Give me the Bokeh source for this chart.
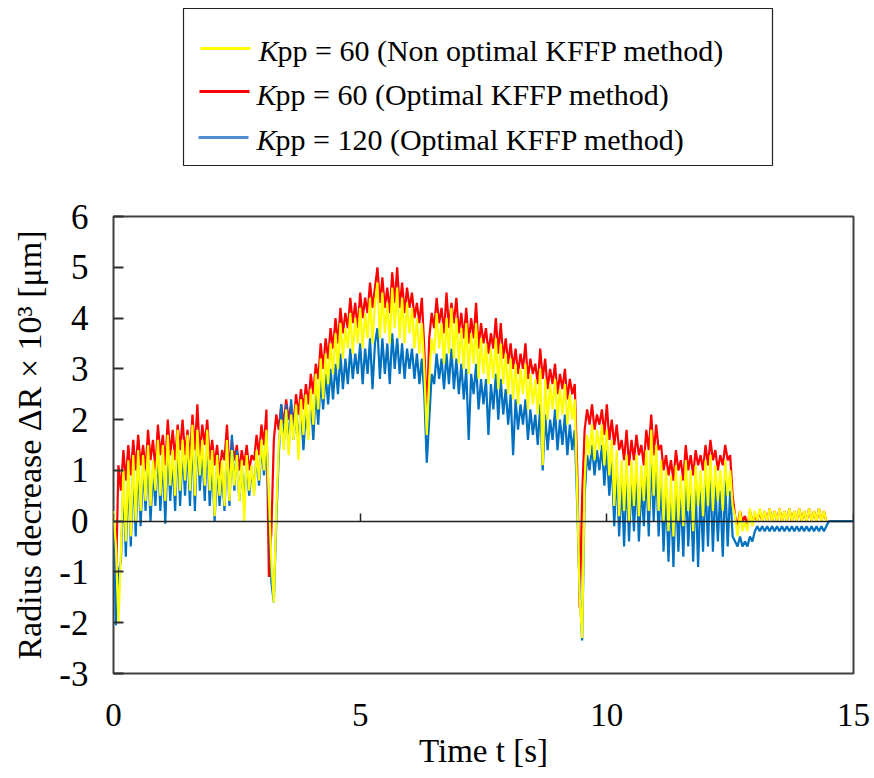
import numpy as np
from bokeh.plotting import figure
from bokeh.models import LinearAxis, Label, FixedTicker, Range1d
from bokeh.layouts import column
from bokeh.embed import file_html
from bokeh.resources import INLINE

FONT = "Liberation Serif"

# ---------------- data ----------------
dt = 0.05  # sampling step [s]

red_vals = [
    0.1, -1.2, 1.1, 0.6, 1.4, 0.8, 1.5, 0.9, 1.6, 1.0,
    1.7, 1.1, 1.5, 1.0, 1.8, 1.2, 1.6, 1.0, 1.9, 1.3,
    1.7, 1.1, 2.0, 1.3, 1.8, 1.2, 1.9, 1.4, 2.0, 1.3,
    1.8, 1.2, 2.1, 1.4, 2.3, 1.3, 1.9, 1.5, 2.0, 1.2,
    1.6, 1.1, 1.5, 0.9, 1.4, 1.2, 1.9, 1.0, 1.6, 1.2,
    1.5, 1.0, 1.4, 1.1, 1.5, 1.0, 1.3, 1.2, 1.7, 1.3,
    1.9, 1.5, 2.2, -1.1, -0.2, 1.6, 2.1, 1.8, 2.3, 1.9,
    2.4, 2.0, 2.3, 1.9, 2.5, 2.1, 2.6, 2.2, 2.7, 2.3,
    2.9, 2.5, 3.1, 2.8, 3.5, 3.0, 3.6, 3.2, 3.8, 3.4,
    4.0, 3.5, 4.2, 3.7, 4.1, 3.8, 4.4, 3.9, 4.3, 3.8,
    4.5, 4.0, 4.4, 4.1, 4.7, 4.2, 4.6, 5.0, 4.3, 4.8,
    4.2, 4.6, 4.1, 4.9, 4.3, 5.0, 4.2, 4.7, 4.1, 4.6,
    4.2, 4.5, 4.0, 4.3, 3.9, 4.4, 3.4, 2.1, 3.6, 4.1,
    3.8, 4.4, 3.9, 4.2, 3.7, 4.5, 3.8, 4.3, 3.9, 4.4,
    3.7, 4.1, 3.6, 4.2, 3.5, 4.0, 3.6, 4.3, 3.4, 3.9,
    3.5, 3.8, 3.3, 3.7, 3.4, 4.0, 3.3, 3.9, 3.2, 3.6,
    3.1, 3.5, 3.0, 3.4, 2.9, 3.3, 3.0, 3.5, 2.8, 3.2,
    2.9, 3.1, 2.7, 3.4, 2.8, 3.2, 2.6, 3.0, 2.7, 3.1,
    2.5, 2.9, 2.6, 3.0, 2.4, 2.8, 2.5, 2.7, 1.0, -1.7,
    0.5, 1.8, 2.2, 1.9, 2.3, 1.8, 2.1, 1.9, 2.2, 1.7,
    2.3, 1.6, 2.0, 1.5, 1.9, 1.4, 1.6, 1.2, 1.8, 1.1,
    1.6, 1.2, 1.7, 1.3, 1.5, 1.1, 1.8, 1.4, 2.1, 1.3,
    1.9, 1.4, 1.5, 1.0, 1.3, 0.9, 1.2, 0.8, 1.4, 1.0,
    1.2, 0.8, 1.5, 1.0, 1.3, 0.9, 1.4, 1.1, 1.3, 1.0,
    1.5, 1.1, 1.6, 1.2, 1.4, 1.0, 1.3, 1.1, 1.5, 1.2,
    1.3, 0.5, 0.1, -0.1, 0.2, 0.0, 0.1, -0.1, 0.2, 0.0,
    0.1, 0.0, 0.2, 0.0, 0.2, 0.0, 0.25, 0.0, 0.2, 0.0,
    0.25, 0.0, 0.2, 0.0, 0.25, 0.0, 0.2, 0.0, 0.25, 0.0,
    0.2, 0.0, 0.25, 0.0, 0.2, 0.0, 0.25, 0.0, 0.2, 0.0,
]

yellow_vals = [
    0.2, -0.5, -2.0, -0.6, 1.0, -0.4, 1.2, -0.3, 1.3, 0.0,
    1.4, 0.2, 1.3, 0.4, 1.5, 0.3, 1.2, 0.6, 1.6, 0.5,
    1.5, 0.4, 1.7, 0.7, 1.4, 0.5, 1.8, 0.6, 1.6, 0.8,
    1.7, 0.6, 1.9, 0.5, 1.8, 0.9, 1.6, 0.7, 1.8, 0.6,
    1.4, 0.1, 1.3, 0.5, 1.2, 0.3, 1.6, 0.4, 1.4, 0.7,
    1.3, 0.4, 1.2, 0.0, 1.3, 0.6, 1.1, 0.5, 1.4, 0.8,
    1.6, 1.0, 1.8, 0.5, -0.8, -1.6, 0.2, 1.5, 2.0, 1.4,
    2.2, 1.3, 2.1, 1.6, 2.3, 1.2, 2.4, 1.7, 2.5, 1.6,
    2.6, 1.9, 2.9, 2.2, 3.2, 2.4, 3.3, 2.7, 3.5, 2.9,
    3.7, 3.0, 3.9, 3.2, 3.8, 3.4, 4.1, 3.3, 4.0, 3.5,
    4.2, 3.4, 4.1, 3.6, 4.4, 3.5, 4.3, 4.7, 3.6, 4.5,
    3.7, 4.3, 3.5, 4.6, 3.8, 4.6, 3.6, 4.4, 3.5, 4.3,
    3.7, 4.2, 3.4, 4.0, 3.3, 3.9, 3.0, 1.7, 2.8, 3.6,
    3.3, 4.1, 3.4, 3.9, 3.1, 4.0, 3.3, 4.2, 3.2, 4.0,
    3.1, 3.8, 3.0, 3.9, 2.9, 3.7, 3.1, 3.9, 2.8, 3.6,
    2.9, 3.5, 2.7, 3.4, 2.8, 3.6, 2.6, 3.5, 2.7, 3.3,
    2.5, 3.2, 2.4, 3.1, 2.3, 3.0, 2.5, 3.1, 2.2, 2.9,
    2.3, 2.8, 2.1, 3.0, 1.1, 2.8, 2.0, 2.7, 2.2, 2.8,
    2.0, 2.6, 2.1, 2.7, 1.9, 2.5, 2.0, 2.4, 0.5, -1.5,
    -2.3, 0.8, 1.7, 1.3, 1.9, 1.2, 1.8, 1.4, 1.9, 1.1,
    1.8, 0.9, 1.6, 0.3, 1.4, 0.1, 1.2, 0.2, 1.3, 0.0,
    1.2, 0.3, 1.3, 0.1, 1.1, 0.4, 1.4, 0.2, 1.8, 0.5,
    1.5, 0.2, 1.2, 0.0, 1.0, -0.2, 0.9, -0.3, 1.1, 0.0,
    0.9, -0.1, 1.2, 0.2, 1.0, -0.2, 1.1, 0.3, 1.0, 0.1,
    1.2, 0.3, 1.3, 0.2, 1.1, 0.4, 1.0, 0.2, 1.2, 0.5,
    1.0, 0.3, 0.1, -0.3, 0.2, -0.2, 0.0, -0.2, 0.25, -0.1,
    0.2, 0.0, 0.25, 0.0, 0.2, 0.0, 0.25, 0.0, 0.2, 0.0,
    0.25, 0.0, 0.2, 0.0, 0.25, 0.0, 0.2, 0.0, 0.25, 0.0,
    0.2, 0.0, 0.25, 0.0, 0.2, 0.0, 0.25, 0.0, 0.2, 0.0,
]

blue_vals = [
    0.0, -2.05, -1.0, -0.8, 0.8, -0.7, 1.0, -0.5, 1.1, -0.3,
    1.2, -0.1, 1.1, 0.2, 1.3, 0.0, 1.0, 0.3, 1.4, 0.2,
    1.3, -0.05, 1.5, 0.4, 1.2, 0.2, 1.6, 0.3, 1.4, 0.5,
    1.5, 0.3, 1.7, 0.2, 1.8, 0.6, 1.4, 0.4, 1.6, 0.3,
    1.2, 0.0, 1.1, 0.3, 1.0, 0.2, 1.5, 0.3, 1.7, 0.6,
    1.4, 0.4, 1.1, 0.3, 1.2, 0.5, 1.0, 0.6, 1.3, 0.7,
    1.5, 0.9, 1.7, 0.3, -1.2, -1.6, 0.0, 1.3, 2.3, 1.5,
    2.3, 1.4, 2.4, 1.6, 2.2, 1.5, 2.3, 1.4, 2.2, 1.7,
    2.4, 1.6, 2.6, 1.9, 2.8, 2.2, 2.9, 2.3, 3.0, 2.4,
    3.1, 2.5, 3.3, 2.6, 3.2, 2.7, 3.4, 2.8, 3.3, 2.9,
    3.5, 2.7, 3.4, 2.9, 3.6, 2.6, 3.5, 3.8, 2.8, 3.6,
    2.9, 3.5, 2.7, 3.7, 3.0, 3.6, 2.9, 3.5, 2.8, 3.4,
    3.0, 3.4, 2.8, 3.3, 2.7, 3.2, 2.5, 1.15, 2.0, 2.9,
    2.7, 3.3, 2.8, 3.2, 2.6, 3.3, 2.7, 3.4, 2.6, 3.2,
    2.5, 3.1, 2.4, 3.0, 1.6, 2.9, 2.5, 3.1, 2.2, 2.8,
    2.3, 2.8, 1.7, 2.7, 2.2, 2.9, 2.0, 2.8, 2.1, 2.6,
    1.9, 2.5, 1.3, 2.4, 1.8, 2.3, 1.9, 2.4, 1.6, 2.2,
    1.7, 2.1, 1.5, 2.3, 1.0, 2.1, 1.4, 2.0, 1.6, 2.2,
    1.4, 2.0, 1.5, 2.1, 1.3, 1.9, 1.4, 1.8, 0.3, -1.4,
    -2.35, 0.5, 1.3, 1.0, 1.5, 0.9, 1.4, 1.0, 1.5, 0.7,
    1.4, 0.5, 1.2, -0.1, 1.0, -0.3, 0.8, -0.5, 0.9, -0.4,
    0.8, -0.2, 0.9, -0.4, 0.7, -0.1, 1.0, -0.3, 1.3, 0.0,
    1.1, -0.3, 0.8, -0.6, 0.6, -0.8, 0.5, -0.9, 0.7, -0.6,
    0.5, -0.7, 0.8, -0.5, 0.6, -0.8, 0.7, -0.9, 0.6, -0.6,
    0.8, -0.5, 0.9, -0.6, 0.7, -0.4, 0.6, -0.7, 0.8, -0.5,
    0.6, -0.3, -0.4, -0.5, -0.3, -0.5, -0.4, -0.5, -0.3, -0.4,
    -0.2, -0.1, -0.2, -0.1, -0.2, -0.1, -0.2, -0.1, -0.2, -0.1,
    -0.2, -0.1, -0.2, -0.1, -0.2, -0.1, -0.2, -0.1, -0.2, -0.1,
    -0.2, -0.1, -0.2, -0.1, -0.2, -0.1, -0.2, -0.1, -0.2, -0.1,
    0.0, 0.0,
]
blue_tail_t = [14.5, 15.0]

x_ticks = [0, 5, 10, 15]
y_ticks = [-3, -2, -1, 0, 1, 2, 3, 4, 5, 6]

x_title = "Time t [s]"
y_title = "Radius decrease \u0394R \u00d7 10\u00b3 [\u03bcm]"
legend_labels = [
    "pp = 60 (Non optimal KFFP method)",
    "pp = 60 (Optimal KFFP method)",
    "pp = 120 (Optimal KFFP method)",
]

C_YEL = "#FFFF00"
C_RED = "#FF0000"
C_BLU = "#0070C0"

t_red = np.arange(len(red_vals)) * dt
t_yel = np.arange(len(yellow_vals)) * dt
t_blu = list(np.arange(len(blue_vals) - 2) * dt) + blue_tail_t

BL, BR = 113, 21  # shared left/right borders so the column keeps frames aligned

# ---------------- legend figure (page-pixel coordinates) ----------------
leg = figure(width=874, height=190, x_range=Range1d(BL, 874 - BR), y_range=Range1d(190, 0),
             toolbar_location=None, output_backend="svg",
             x_axis_type=None, y_axis_type=None,
             min_border_left=BL, min_border_right=BR, min_border_top=0, min_border_bottom=0)
leg.grid.visible = False
leg.outline_line_color = None

leg.quad(left=[183], right=[772], top=[8], bottom=[165], fill_color=None,
         line_color="#222222", line_width=1.2)

leg_colors = [C_YEL, C_RED, "#4F8BD0"]
line_rows = [48, 91, 137]
mid_rows = [50, 94, 139]
k_x = [258, 256, 256]
leg.segment(x0=[200, 199, 198], y0=line_rows, x1=[250, 249, 248], y1=line_rows,
            line_color=leg_colors, line_width=3)
for i in range(3):
    leg.add_layout(Label(x=k_x[i], y=mid_rows[i], text="K", text_font=FONT,
                         text_font_size="30px", text_font_style="italic",
                         text_baseline="middle", text_color="black"))
    leg.add_layout(Label(x=k_x[i] + 19, y=mid_rows[i], text=legend_labels[i],
                         text_font=FONT, text_font_size="30px",
                         text_baseline="middle", text_color="black"))

# ---------------- main figure ----------------
p = figure(width=874, height=588, x_range=Range1d(0, 15), y_range=Range1d(-3, 6),
           toolbar_location=None, output_backend="svg",
           x_axis_type=None, y_axis_type=None,
           min_border_left=BL, min_border_right=BR, min_border_top=26, min_border_bottom=105)
p.grid.visible = False
p.outline_line_color = "#404040"
p.outline_line_width = 2

p.line(t_red, red_vals, line_color=C_RED, line_width=2.2)
p.line(t_blu, blue_vals, line_color=C_BLU, line_width=2.2)
p.line(t_yel, yellow_vals, line_color=C_YEL, line_width=2.2)

# y axis (ticks inside)
yax = LinearAxis(ticker=FixedTicker(ticks=y_ticks),
                 major_label_overrides={v: str(v) for v in y_ticks},
                 major_tick_in=10, major_tick_out=0, minor_tick_in=0, minor_tick_out=0,
                 axis_line_color=None, major_tick_line_color="#303030", major_tick_line_width=2,
                 major_label_text_font=FONT, major_label_text_font_size="35px",
                 major_label_text_color="black", major_label_standoff=25,
                 axis_label=y_title, axis_label_text_font=FONT,
                 axis_label_text_font_size="34px", axis_label_text_font_style="normal",
                 axis_label_text_color="black", axis_label_standoff=8)
p.add_layout(yax, "left")

# x axis drawn along y = 0 (ticks pointing up)
zax = LinearAxis(fixed_location=0, ticker=FixedTicker(ticks=x_ticks),
                 major_tick_in=0, major_tick_out=8, minor_tick_in=0, minor_tick_out=0,
                 axis_line_color="#202020", axis_line_width=1.5,
                 major_tick_line_color="#202020", major_tick_line_width=1.5,
                 major_label_text_font_size="1px", major_label_text_alpha=0,
                 major_label_standoff=0)
p.add_layout(zax, "above")

# x tick labels and title at bottom
xax = LinearAxis(ticker=FixedTicker(ticks=x_ticks),
                 major_tick_in=0, major_tick_out=0, minor_tick_in=0, minor_tick_out=0,
                 axis_line_color=None,
                 major_label_text_font=FONT, major_label_text_font_size="33px",
                 major_label_text_color="black", major_label_standoff=30,
                 axis_label=x_title, axis_label_text_font=FONT,
                 axis_label_text_font_size="33px", axis_label_text_font_style="normal",
                 axis_label_text_color="black", axis_label_standoff=4)
p.add_layout(xax, "below")

layout = column(leg, p)
open("out.html", "w").write(file_html(layout, INLINE))
